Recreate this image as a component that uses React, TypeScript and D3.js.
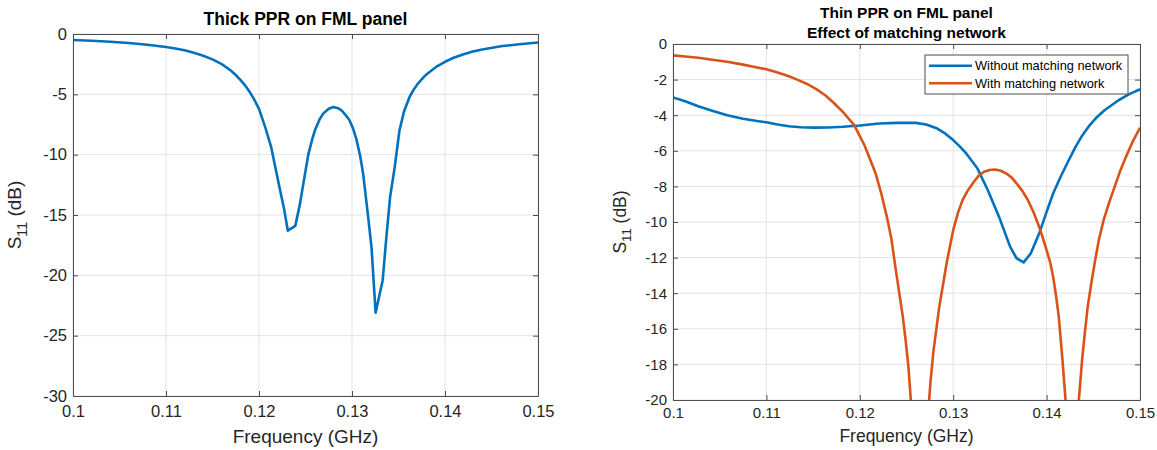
import React, { useEffect, useRef } from 'react';
import * as d3 from 'd3';

// left panel: thick PPR
const thickFreq = [
  0.1, 0.102, 0.104, 0.106, 0.108, 0.11, 0.111, 0.112, 0.113, 0.114, 0.115, 0.116, 0.117,
  0.1175, 0.118, 0.1185, 0.119, 0.1195, 0.12, 0.1207, 0.1213, 0.1218, 0.1222, 0.1227, 0.1231,
  0.1239, 0.1244, 0.1249, 0.1253, 0.1257, 0.126, 0.1265, 0.1269, 0.1275, 0.128, 0.1285, 0.1289,
  0.1293, 0.1297, 0.1301, 0.1305, 0.1309, 0.1312, 0.1317, 0.1321, 0.13254, 0.1333, 0.1337,
  0.1341, 0.1346, 0.1351, 0.1356, 0.1362, 0.1366, 0.137, 0.1375, 0.138, 0.139, 0.14, 0.141,
  0.142, 0.143, 0.144, 0.146, 0.148, 0.15,
];
const thickS11 = [
  -0.5, -0.56, -0.64, -0.75, -0.89, -1.08, -1.2, -1.35, -1.55, -1.8, -2.1, -2.5, -3.05,
  -3.4, -3.8, -4.25, -4.8, -5.45, -6.2, -7.8, -9.35, -11.2, -12.7, -14.5, -16.3,
  -15.9, -14.1, -11.8, -10.0, -8.8, -8.0, -7.1, -6.6, -6.2, -6.05, -6.15, -6.35,
  -6.7, -7.1, -7.8, -8.8, -10.2, -11.6, -14.9, -17.7, -23.1, -20.4, -16.8,
  -13.5, -11.0, -8.0, -6.4, -5.2, -4.65, -4.2, -3.75, -3.35, -2.75, -2.3, -1.95,
  -1.68, -1.45, -1.28, -1.02, -0.85, -0.7,
];

// right panel: thin PPR, without matching network
const withoutFreq = [
  0.1, 0.1013, 0.1027, 0.1042, 0.1058, 0.1075, 0.109, 0.11, 0.1112, 0.1124, 0.1137, 0.1151,
  0.1167, 0.1182, 0.12, 0.1221, 0.124, 0.126, 0.1271, 0.1283, 0.1292, 0.13, 0.1307, 0.1314,
  0.1326, 0.1337, 0.1349, 0.1361, 0.1368, 0.13754, 0.1383, 0.1392, 0.14, 0.1407, 0.1415,
  0.1423, 0.1431, 0.1438, 0.1446, 0.1454, 0.1462, 0.1477, 0.1488, 0.15,
];
const withoutS11 = [
  -3.0, -3.22, -3.5, -3.75, -4.0, -4.2, -4.33, -4.4, -4.52, -4.62, -4.68, -4.7,
  -4.69, -4.65, -4.58, -4.47, -4.43, -4.43, -4.52, -4.75, -5.05, -5.4, -5.75, -6.15,
  -7.0, -8.2, -9.7, -11.4, -12.05, -12.27, -11.77, -10.65, -9.43, -8.4, -7.46,
  -6.6, -5.78, -5.15, -4.57, -4.1, -3.72, -3.16, -2.83, -2.54,
];

// right panel: with matching network
const withFreq = [
  0.1, 0.1013, 0.1027, 0.1042, 0.1058, 0.1075, 0.109, 0.11, 0.1112, 0.1124, 0.1133, 0.1143,
  0.1153, 0.1163, 0.1172, 0.1182, 0.1194, 0.1205, 0.1217, 0.1223, 0.1229, 0.1234, 0.1238,
  0.1242, 0.1246, 0.1249, 0.1252, 0.1256, 0.1264, 0.1272, 0.1276, 0.1279, 0.1285, 0.1293,
  0.13, 0.1305, 0.131, 0.1316, 0.1322, 0.1327, 0.1333, 0.1339, 0.1345, 0.1351, 0.1357,
  0.1363, 0.1368, 0.1374, 0.138, 0.1386, 0.1392, 0.1396, 0.14, 0.1404, 0.1407, 0.141,
  0.1413, 0.1417, 0.1421, 0.1427, 0.1433, 0.1438, 0.1441, 0.1444, 0.1448, 0.1452, 0.1456,
  0.1461, 0.1467, 0.1473, 0.1479, 0.1485, 0.1492, 0.15,
];
const withS11 = [
  -0.64, -0.7, -0.77, -0.88, -1.0, -1.16, -1.32, -1.42, -1.6, -1.81, -2.0, -2.23,
  -2.52, -2.88, -3.3, -3.82, -4.56, -5.69, -7.28, -8.4, -9.71, -11.0, -12.5,
  -13.9, -15.3, -16.6, -18.1, -21.0, -32.0, -21.5, -18.8, -17.2, -14.8, -12.3,
  -10.46, -9.5, -8.77, -8.2, -7.75, -7.42, -7.18, -7.08, -7.05, -7.12, -7.28,
  -7.52, -7.84, -8.25, -8.77, -9.45, -10.27, -10.9, -11.58, -12.3, -13.08, -14.1,
  -15.32, -17.75, -20.5, -30.0, -21.0, -17.75, -16.2, -14.76, -13.4, -12.14, -11.0,
  -9.9, -8.9, -8.0, -7.1, -6.34, -5.5, -4.71,
];

const xTicks = [0.1, 0.11, 0.12, 0.13, 0.14, 0.15];
const leftYTicks = [0, -5, -10, -15, -20, -25, -30];
const rightYTicks = [0, -2, -4, -6, -8, -10, -12, -14, -16, -18, -20];
const legendLabels = ['Without matching network', 'With matching network'];

const BLUE = '#0072BD';
const ORANGE = '#D95319';
const FONT = '"Liberation Sans", Arial, Helvetica, sans-serif';

function drawPanel(svg, opts) {
  const { left, top, width, height, yDomain, yTicks, series, titles, tickFont, labelFont, titleFont, id } = opts;
  const x = d3.scaleLinear().domain([0.1, 0.15]).range([0, width]);
  const y = d3.scaleLinear().domain(yDomain).range([height, 0]);

  const g = svg.append('g').attr('transform', `translate(${left},${top})`);

  // grid
  g.append('g')
    .selectAll('line')
    .data(xTicks)
    .join('line')
    .attr('x1', d => x(d)).attr('x2', d => x(d))
    .attr('y1', 0).attr('y2', height)
    .attr('stroke', '#e3e3e3').attr('stroke-width', 1);
  g.append('g')
    .selectAll('line')
    .data(yTicks)
    .join('line')
    .attr('x1', 0).attr('x2', width)
    .attr('y1', d => y(d)).attr('y2', d => y(d))
    .attr('stroke', '#e3e3e3').attr('stroke-width', 1);

  // curves, clipped to the axes box
  svg.append('clipPath').attr('id', id)
    .append('rect').attr('width', width).attr('height', height);
  const line = d3.line().x(d => x(d[0])).y(d => y(d[1]));
  series.forEach(s => {
    g.append('path')
      .datum(d3.zip(s.freq, s.s11))
      .attr('clip-path', `url(#${id})`)
      .attr('fill', 'none')
      .attr('stroke', s.color)
      .attr('stroke-width', 2.6)
      .attr('stroke-linejoin', 'round')
      .attr('d', line);
  });

  // axes (ticks pointing inward, box on)
  const axisColor = '#4d4d4d';
  const bottom = g.append('g').attr('transform', `translate(0,${height})`)
    .call(d3.axisBottom(x).tickValues(xTicks).tickFormat(d => String(d)).tickSizeInner(-5).tickSizeOuter(0).tickPadding(opts.xPad));
  const leftAx = g.append('g')
    .call(d3.axisLeft(y).tickValues(yTicks).tickFormat(d => String(d)).tickSizeInner(-5).tickSizeOuter(0).tickPadding(6));
  g.append('g')
    .call(d3.axisTop(x).tickValues(xTicks).tickFormat(() => '').tickSizeInner(-5).tickSizeOuter(0));
  g.append('g').attr('transform', `translate(${width},0)`)
    .call(d3.axisRight(y).tickValues(yTicks).tickFormat(() => '').tickSizeInner(-5).tickSizeOuter(0));
  g.selectAll('.domain').attr('stroke', axisColor);
  g.selectAll('.tick line').attr('stroke', axisColor);
  [bottom, leftAx].forEach(a => a.selectAll('text')
    .attr('font-family', FONT).attr('font-size', tickFont).attr('fill', '#262626'));

  // axis labels
  g.append('text')
    .attr('x', width / 2).attr('y', height + opts.xLabelOffset)
    .attr('text-anchor', 'middle')
    .attr('font-family', FONT).attr('font-size', labelFont).attr('fill', '#262626')
    .text('Frequency (GHz)');
  const yl = g.append('text')
    .attr('transform', `translate(${opts.yLabelX},${height / 2}) rotate(-90)`)
    .attr('text-anchor', 'middle')
    .attr('font-family', FONT).attr('font-size', labelFont).attr('fill', '#262626');
  yl.append('tspan').text('S');
  yl.append('tspan').attr('font-size', labelFont * 0.75).attr('dy', labelFont * 0.3).text('11');
  yl.append('tspan').attr('dy', -labelFont * 0.3).text(' (dB)');

  // titles
  titles.forEach((t, i) => {
    g.append('text')
      .attr('x', width / 2).attr('y', opts.titleY + i * 20)
      .attr('text-anchor', 'middle')
      .attr('font-family', FONT).attr('font-size', titleFont).attr('font-weight', 'bold').attr('fill', '#000')
      .text(t);
  });

  return { g, x, y };
}

const App = () => {
  const ref = useRef();

  useEffect(() => {
    const svg = d3.select(ref.current);
    svg.selectAll('*').remove();

    drawPanel(svg, {
      id: 'clipL', left: 73, top: 34, width: 465, height: 362,
      yDomain: [-30, 0], yTicks: leftYTicks,
      series: [{ freq: thickFreq, s11: thickS11, color: BLUE }],
      titles: ['Thick PPR on FML panel'], titleY: -9,
      tickFont: 16.5, labelFont: 19, titleFont: 17.5,
      xLabelOffset: 47, yLabelX: -52, xPad: 9,
    });

    const right = drawPanel(svg, {
      id: 'clipR', left: 673, top: 44, width: 467, height: 356,
      yDomain: [-20, 0], yTicks: rightYTicks,
      series: [
        { freq: withoutFreq, s11: withoutS11, color: BLUE },
        { freq: withFreq, s11: withS11, color: ORANGE },
      ],
      titles: ['Thin PPR on FML panel', 'Effect of matching network'], titleY: -26,
      tickFont: 15, labelFont: 17.5, titleFont: 15.5,
      xLabelOffset: 42, yLabelX: -47, xPad: 7,
    });

    // legend
    const lg = right.g.append('g').attr('transform', 'translate(252,11)');
    lg.append('rect')
      .attr('width', 203).attr('height', 39)
      .attr('fill', '#fff').attr('stroke', '#4d4d4d').attr('stroke-width', 1);
    [BLUE, ORANGE].forEach((c, i) => {
      const cy = 10.7 + i * 17.6;
      lg.append('line')
        .attr('x1', 4).attr('x2', 47).attr('y1', cy).attr('y2', cy)
        .attr('stroke', c).attr('stroke-width', 2.6);
      lg.append('text')
        .attr('x', 50).attr('y', cy).attr('dy', '0.35em')
        .attr('font-family', FONT).attr('font-size', 12.8).attr('fill', '#000')
        .text(legendLabels[i]);
    });
  }, []);

  return (
    <svg
      ref={ref}
      width={1157}
      height={450}
      style={{ position: 'absolute', left: 0, top: 0, background: '#fff' }}
    />
  );
};

export default App;
